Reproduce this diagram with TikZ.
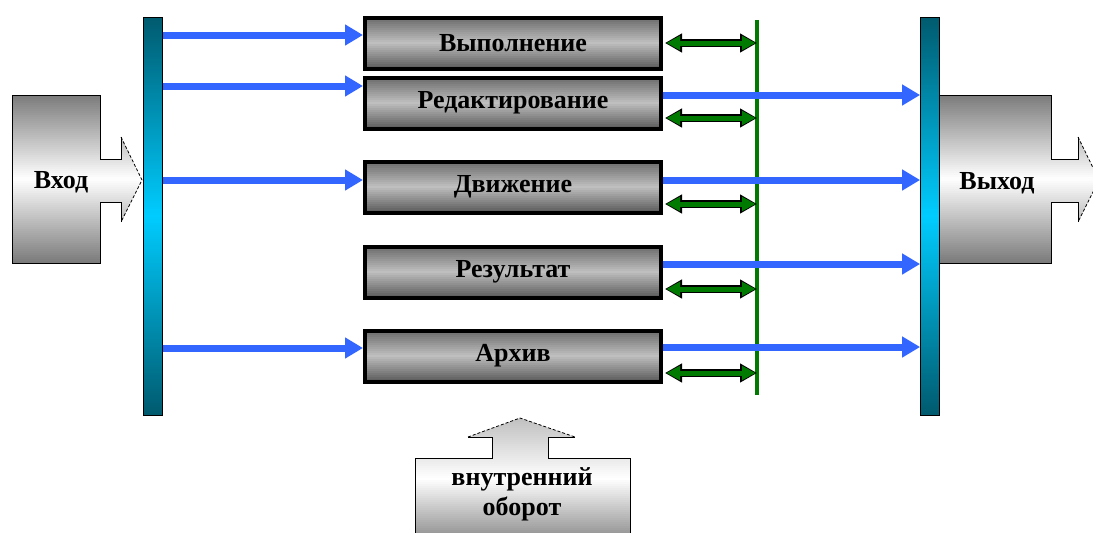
\documentclass[tikz,border=0pt]{standalone}
\usepackage{fontspec}
\setmainfont{Liberation Serif}
\usetikzlibrary{arrows.meta}
\definecolor{tealdark}{HTML}{005A6E}
\definecolor{cyanbright}{HTML}{00CCFF}
\definecolor{arrblue}{HTML}{3366FF}
\definecolor{dgreen}{HTML}{007A00}
\colorlet{boxtop}{black!58}
\colorlet{boxmid}{black!25}
\colorlet{boxbot}{black!64}
\colorlet{shapegray}{black!52}
\colorlet{turntop}{black!25}
\colorlet{turnbot}{black!45}
% vertical three-colour gradient made of thin strips
% #1 x left, #2 x right, #3 y top, #4 y bottom, #5 top colour, #6 middle colour, #7 bottom colour
\newcommand\vgrad[7]{%
  \pgfmathsetmacro\gradH{#3-(#4)}%
  \pgfmathtruncatemacro\gradN{max(2,\gradH/2)}%
  \pgfmathsetmacro\gradS{\gradH/\gradN}%
  \foreach \k in {1,...,\gradN}{%
    \pgfmathsetmacro\gyA{#3-\gradS*(\k-1)}%
    \pgfmathsetmacro\gyB{#3-\gradS*\k-0.6}%
    \pgfmathsetmacro\gT{(\k-0.5)/\gradN}%
    \ifdim\gT pt<0.5pt
      \pgfmathsetmacro\gP{100-200*\gT}%
      \fill[#5!\gP!#6] (#1,\gyA) rectangle (#2,\gyB);%
    \else
      \pgfmathsetmacro\gP{200*\gT-100}%
      \fill[#7!\gP!#6] (#1,\gyA) rectangle (#2,\gyB);%
    \fi
  }}
\begin{document}
\begin{tikzpicture}[x=1pt,y=1pt,
  bar/.style={draw=black, line width=0.8pt, minimum width=19pt, minimum height=398pt, inner sep=0pt},
  procbox/.style={draw=black, line width=4pt, minimum width=296pt, minimum height=51pt, inner sep=0pt,
    font=\bfseries\fontsize{26}{28}\selectfont},
  lbl/.style={font=\bfseries\fontsize{26}{28}\selectfont, inner sep=0pt},
  barrow/.style={draw=arrblue, line width=7pt, -{Triangle[length=18pt,width=20pt]}},
  gbase/.style={draw=black, line width=8pt, {Triangle[length=17pt,width=18pt]}-{Triangle[length=17pt,width=18pt]}},
  gtop/.style={draw=dgreen, line width=5pt, shorten <=1.5pt, shorten >=1.5pt,
    {Triangle[length=13.5pt,width=13.5pt]}-{Triangle[length=13.5pt,width=13.5pt]}},
  outl/.style={draw=black, line width=0.8pt},
  headl/.style={draw=black, line width=0.8pt, densely dashed}
]
\clip (0,0) rectangle (1093,-533);
\fill[white] (0,0) rectangle (1093,-533);

% input shape
\begin{scope}
\clip (12,-95) -- (100,-95) -- (100,-159) -- (121,-159) -- (121,-137) -- (142,-180)
  -- (121,-222) -- (121,-202) -- (100,-202) -- (100,-263) -- (12,-263) -- cycle;
\vgrad{12}{142}{-95}{-263}{shapegray}{white}{shapegray}
\end{scope}
\draw[outl] (121,-137) -- (121,-159) -- (100,-159) -- (100,-95) -- (12,-95) -- (12,-263) -- (100,-263) -- (100,-202) -- (121,-202) -- (121,-222);
\draw[headl] (121,-137) -- (142,-180) -- (121,-222);
\node[lbl] (inp) at (61,-182) {Вход};

% output shape
\begin{scope}
\clip (938,-95) -- (1051,-95) -- (1051,-159) -- (1078,-159) -- (1078,-137) -- (1099,-180)
  -- (1078,-222) -- (1078,-202) -- (1051,-202) -- (1051,-263) -- (938,-263) -- cycle;
\vgrad{938}{1099}{-95}{-263}{shapegray}{white}{shapegray}
\end{scope}
\draw[outl] (1078,-137) -- (1078,-159) -- (1051,-159) -- (1051,-95) -- (938,-95) -- (938,-263) -- (1051,-263) -- (1051,-202) -- (1078,-202) -- (1078,-222);
\draw[headl] (1078,-137) -- (1099,-180) -- (1078,-222);
\node[lbl] (outp) at (997,-183) {Выход};

% bottom shape
\begin{scope}
\clip (415,-540) -- (415,-458) -- (492,-458) -- (492,-437) -- (468,-437) -- (520,-418) -- (575,-437)
  -- (548,-437) -- (548,-458) -- (630,-458) -- (630,-540) -- cycle;
\vgrad{415}{630}{-418}{-540}{turntop}{white}{turnbot}
\end{scope}
\draw[outl] (415,-540) -- (415,-458) -- (492,-458) -- (492,-437) -- (468,-437);
\draw[outl] (575,-437) -- (548,-437) -- (548,-458) -- (630,-458) -- (630,-540);
\draw[headl] (468,-437) -- (520,-418) -- (575,-437);
\node[lbl, align=center] (turn) at (522,-494) {внутренний\\[2pt]оборот};

% bar gradients and bars
\vgrad{143.5}{162.5}{-17}{-415}{tealdark}{cyanbright}{tealdark}
\vgrad{920.5}{939.5}{-17}{-415}{tealdark}{cyanbright}{tealdark}
\node[bar] (lbar) at (153,-216) {};
\node[bar] (rbar) at (930,-216) {};

% process box gradients and boxes
\foreach \c in {43,103,187,272,356}
  \vgrad{365}{661}{-\c+25.5}{-\c-25.5}{boxtop}{boxmid}{boxbot};
\node[procbox] (b1) at (513,-43) {Выполнение};
\node[procbox] (b2) at (513,-103) {Редактирование};
\node[procbox] (b3) at (513,-187) {Движение};
\node[procbox] (b4) at (513,-272) {Результат};
\node[procbox] (b5) at (513,-356) {Архив};

% green bus
\coordinate (gt) at (757,-20);
\coordinate (gb) at (757,-395);
\draw[dgreen, line width=4pt] (gt) -- (gb);

% input blue arrows
\path ([yshift=8pt]b1.west) coordinate (i1)
      ([yshift=17pt]b2.west) coordinate (i2)
      ([yshift=7pt]b3.west) coordinate (i3)
      ([yshift=8pt]b5.west) coordinate (i5);
\foreach \c in {i1,i2,i3,i5} \draw[barrow] (lbar.east |- \c) -- (\c);

% output blue arrows
\path ([yshift=8pt]b2.east) coordinate (o2)
      ([yshift=7pt]b3.east) coordinate (o3)
      ([yshift=8pt]b4.east) coordinate (o4)
      ([yshift=9pt]b5.east) coordinate (o5);
\foreach \c in {o2,o3,o4,o5} \draw[barrow] (\c) -- (\c -| rbar.west);

% green double arrows
\path (b1.east) coordinate (g1)
      ([yshift=-15pt]b2.east) coordinate (g2)
      ([yshift=-17pt]b3.east) coordinate (g3)
      ([yshift=-17pt]b4.east) coordinate (g4)
      ([yshift=-17pt]b5.east) coordinate (g5);
\foreach \c in {g1,g2,g3,g4,g5} {
  \draw[gbase] ([xshift=2pt]\c) -- (\c -| gt);
  \draw[gtop] ([xshift=2pt]\c) -- (\c -| gt);
}
\end{tikzpicture}
\end{document}
